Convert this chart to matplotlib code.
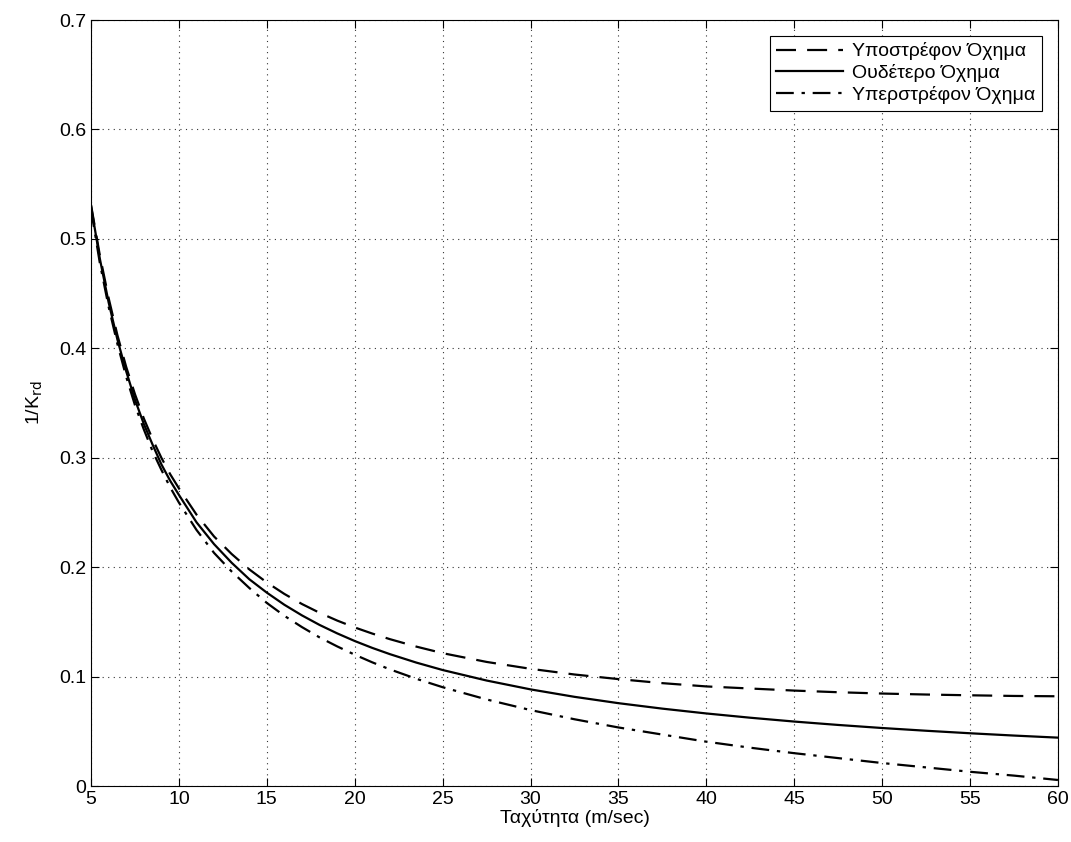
import matplotlib.pyplot as plt
from matplotlib.ticker import FuncFormatter

plt.rcParams["font.family"] = ["Liberation Sans", "DejaVu Sans"]

# speed (m/sec) samples
speed = [5, 5.5, 6, 6.5, 7, 7.5, 8, 8.5, 9, 9.5, 10, 11, 12, 13, 14, 15, 16,
         17, 18, 19, 20, 21, 22, 23.5, 25, 27.5, 30, 32.5, 35, 37.5, 40,
         42.5, 45, 47.5, 50, 52.5, 55, 57.5, 60]

# 1/K_rd for each vehicle type
understeer = [0.531, 0.485, 0.446, 0.412, 0.383, 0.358, 0.336, 0.317, 0.300,
              0.285, 0.272, 0.248, 0.228, 0.212, 0.198, 0.186, 0.1755, 0.1663,
              0.1583, 0.1512, 0.1449, 0.1393, 0.1342, 0.1274, 0.1214, 0.1134,
              0.1071, 0.1019, 0.0977, 0.094, 0.091, 0.0891, 0.0872, 0.0857,
              0.0845, 0.0836, 0.0829, 0.0823, 0.082]
neutral = [0.530, 0.482, 0.442, 0.408, 0.379, 0.353, 0.331, 0.312, 0.294,
           0.279, 0.266, 0.241, 0.221, 0.204, 0.189, 0.1767, 0.1656, 0.1559,
           0.1472, 0.1395, 0.1325, 0.1262, 0.1205, 0.1128, 0.106, 0.0964,
           0.0883, 0.0815, 0.0757, 0.0707, 0.0663, 0.0624, 0.0589, 0.0558,
           0.053, 0.0505, 0.0482, 0.0461, 0.0442]
oversteer = [0.527, 0.478, 0.438, 0.404, 0.374, 0.348, 0.326, 0.306, 0.289,
             0.273, 0.259, 0.234, 0.213, 0.196, 0.181, 0.1673, 0.1555, 0.1452,
             0.1358, 0.1276, 0.1200, 0.1130, 0.1066, 0.0980, 0.0903, 0.0791,
             0.0694, 0.0610, 0.0535, 0.047, 0.0405, 0.035, 0.030, 0.0255,
             0.021, 0.017, 0.013, 0.0095, 0.0055]

labels = ["Υποστρέφον Όχημα", "Ουδέτερο Όχημα", "Υπερστρέφον Όχημα"]
xticks = list(range(5, 61, 5))
yticks = [0, 0.1, 0.2, 0.3, 0.4, 0.5, 0.6, 0.7]

fig = plt.figure(figsize=(10.71, 8.42), dpi=100)
ax = fig.add_axes([0.085, 0.0665, 0.9028, 0.9097])

ax.plot(speed, understeer, color="black", linewidth=1.6, dashes=(9, 5), label=labels[0])
ax.plot(speed, neutral, color="black", linewidth=1.6, linestyle="-", label=labels[1])
ax.plot(speed, oversteer, color="black", linewidth=1.6, dashes=(8, 3.5, 1.5, 3.5), label=labels[2])

ax.set_xlim(5, 60)
ax.set_ylim(0, 0.7)
ax.set_xticks(xticks)
ax.set_yticks(yticks)
ax.yaxis.set_major_formatter(FuncFormatter(lambda v, p: "0" if v == 0 else f"{v:g}"))
ax.tick_params(direction="in", length=6, width=0.8, top=True, right=True, labelsize=14)

ax.grid(True, linestyle=(0, (1, 4)), color="black", linewidth=0.8, alpha=0.8)
for s in ax.spines.values():
    s.set_linewidth(0.8)

ax.set_xlabel("Ταχύτητα (m/sec)", fontsize=14, labelpad=1)
ax.set_ylabel("1/K$_{\\mathrm{rd}}$", fontsize=14, labelpad=10)

leg = ax.legend(loc="upper right", fontsize=14, fancybox=False, framealpha=1,
                edgecolor="black", handlelength=3.4, borderaxespad=0.8,
                labelspacing=0.2, handletextpad=0.5, borderpad=0.35)
leg.get_frame().set_linewidth(0.8)

fig.savefig("out.png", dpi=100)
